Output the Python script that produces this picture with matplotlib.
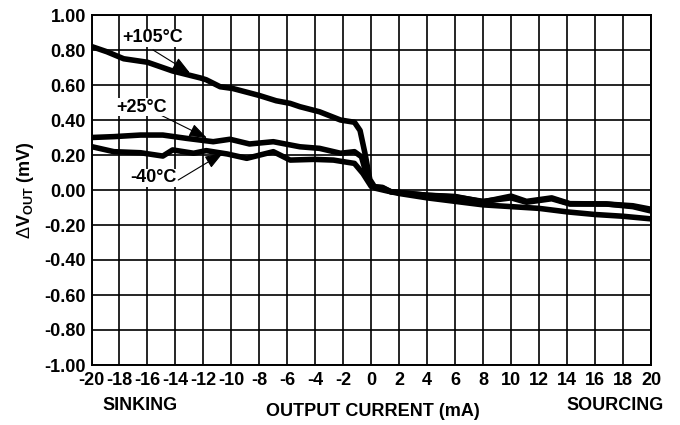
import matplotlib
matplotlib.use("Agg")
import matplotlib.pyplot as plt

plt.rcParams['font.family'] = ['Liberation Sans', 'DejaVu Sans']
plt.rcParams['mathtext.fontset'] = 'custom'
plt.rcParams['mathtext.rm'] = 'Liberation Sans'
plt.rcParams['mathtext.bf'] = 'Liberation Sans:bold'

# Data
x_105 = [-20, -18.9, -17.7, -16, -14.2, -12.2, -11.8, -10.8, -9.9, -8, -6.8, -5.8, -5.1, -3.7, -2.2,
         -1.2, -0.8, -0.45, -0.1, 0.3, 1.1, 2, 4, 6, 8, 10, 12, 14, 16, 18, 20]
y_105 = [0.82, 0.79, 0.75, 0.73, 0.68, 0.64, 0.63, 0.59, 0.58, 0.54, 0.51, 0.495, 0.476, 0.447, 0.40,
         0.387, 0.34, 0.21, 0.06, 0.01, -0.005, -0.02, -0.045, -0.065, -0.085, -0.095, -0.105, -0.125,
         -0.14, -0.15, -0.165]

x_25 = [-20, -18.4, -16.5, -14.9, -13.2, -11.3, -10.1, -8.7, -7, -5.1, -3.7, -2.2, -1.2, -0.7, -0.3,
        0.05, 0.8, 1.4, 4, 6, 8, 10, 11.1, 12.9, 14.2, 16.8, 18.7, 20]
y_25 = [0.30, 0.305, 0.314, 0.314, 0.295, 0.276, 0.29, 0.263, 0.276, 0.247, 0.238, 0.21, 0.219, 0.19,
        0.076, 0.02, 0.012, -0.01, -0.03, -0.04, -0.065, -0.045, -0.07, -0.05, -0.08, -0.08, -0.09, -0.11]

x_m40 = [-20, -18.4, -16.5, -14.9, -14.2, -12.7, -11.8, -10.3, -8.9, -7, -5.8, -4.1, -2.7, -2.0, -1.2,
         -0.6, 0, 0.8, 1.4, 4, 6, 8, 10, 11.1, 12.9, 14.2, 16.8, 18.7, 20]
y_m40 = [0.248, 0.219, 0.213, 0.194, 0.229, 0.21, 0.225, 0.206, 0.181, 0.219, 0.171, 0.175, 0.171,
         0.162, 0.152, 0.095, 0.02, 0.015, -0.01, -0.03, -0.037, -0.068, -0.035, -0.065, -0.045,
         -0.078, -0.08, -0.095, -0.12]

x_ticks = list(range(-20, 21, 2))
y_ticks = [-1.0, -0.8, -0.6, -0.4, -0.2, 0.0, 0.2, 0.4, 0.6, 0.8, 1.0]

fig = plt.figure(figsize=(6.8, 4.25), dpi=100)
ax = fig.add_axes([91.5 / 680, 60 / 425, (651 - 91.5) / 680, 350 / 425])

for xs, ys in [(x_105, y_105), (x_25, y_25), (x_m40, y_m40)]:
    ax.plot(xs, ys, color='black', lw=4.0, solid_joinstyle='round', solid_capstyle='butt', zorder=3)

ax.set_xlim(-20, 20)
ax.set_ylim(-1.0, 1.0)
ax.set_xticks(x_ticks)
ax.set_xticklabels([str(v) for v in x_ticks])
ax.set_yticks(y_ticks)
ax.set_yticklabels([f"{v:.2f}" for v in y_ticks])
ax.grid(True, color='black', lw=1.2)
ax.set_axisbelow(True)
for s in ax.spines.values():
    s.set_linewidth(1.4)
ax.tick_params(length=0, labelsize=13, pad=4)
ax.tick_params(axis='x', pad=5)
for lab in ax.get_xticklabels() + ax.get_yticklabels():
    lab.set_fontweight('bold')

arrow = dict(arrowstyle='-|>,head_length=0.55,head_width=0.2', lw=0.8, color='black',
             mutation_scale=20, shrinkA=0, shrinkB=0)
ax.annotate('', xy=(-12.96, 0.669), xytext=(-15.6, 0.80), arrowprops=arrow, zorder=4)
ax.annotate('', xy=(-11.74, 0.297), xytext=(-15.1, 0.43), arrowprops=arrow, zorder=4)
ax.annotate('', xy=(-10.6, 0.211), xytext=(-13.8, 0.057), arrowprops=arrow, zorder=4)

tb = dict(facecolor='white', edgecolor='none', pad=0.5)
ax.text(-15.6, 0.869, '+105°C', fontsize=13, fontweight='bold', ha='center', va='center', zorder=5, bbox=tb)
ax.text(-16.4, 0.474, '+25°C', fontsize=13, fontweight='bold', ha='center', va='center', zorder=5, bbox=tb)
ax.text(-15.6, 0.069, '-40°C', fontsize=13, fontweight='bold', ha='center', va='center', zorder=5, bbox=tb)

fig.text(25 / 680, 1 - 190 / 425, r'$\Delta\mathbf{V_{OUT}}$ (mV)', rotation=90, fontsize=13,
         fontweight='bold', ha='center', va='center')
fig.text(140.5 / 680, 1 - 405 / 425, 'SINKING', fontsize=13, fontweight='bold', ha='center', va='center')
fig.text(373 / 680, 1 - 412 / 425, 'OUTPUT CURRENT (mA)', fontsize=13, fontweight='bold', ha='center', va='center')
fig.text(615 / 680, 1 - 405 / 425, 'SOURCING', fontsize=13, fontweight='bold', ha='center', va='center')

fig.savefig('out.png', dpi=100, facecolor='white')
